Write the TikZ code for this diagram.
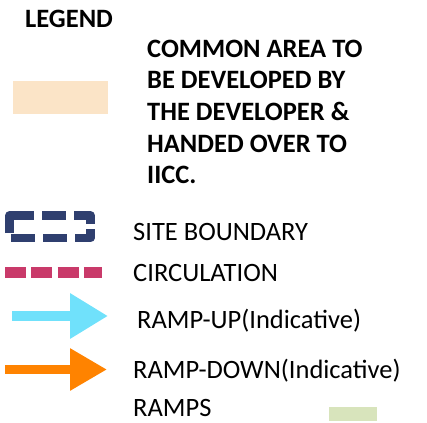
\documentclass[tikz,border=0pt]{standalone}
\usepackage{fontspec}
\setmainfont{Carlito}
\usetikzlibrary{arrows.meta}

\definecolor{areabeige}{HTML}{FBE4C7}
\definecolor{rampgreen}{HTML}{D8E4BC}
\definecolor{sitenavy}{HTML}{2F3F6F}
\definecolor{circpink}{HTML}{C93A6A}
\definecolor{upcyan}{HTML}{70E1FB}
\definecolor{downorange}{HTML}{FF8300}

\begin{document}
\begin{tikzpicture}[
        x=1pt, y=-1pt,
        every node/.style={inner sep=0pt, anchor=base west},
        headtxt/.style={font=\fontsize{26.5}{31.7}\selectfont\bfseries},
        itemtxt/.style={font=\fontsize{26.5}{30}\selectfont},
        boundary/.style={draw=sitenavy, line width=8.5pt, line join=round,
            dash pattern=on 42pt off 8pt on 24pt off 8pt on 25pt off 5pt on 25pt off 8pt on 24pt off 8pt on 24pt off 9pt},
        circ/.style={draw=circpink, line width=11pt, dash pattern=on 21pt off 5.3pt},
        rampup/.style={draw=upcyan, line width=10pt, -{Triangle[length=38pt, width=43pt]}},
        rampdown/.style={draw=downorange, line width=9pt, -{Triangle[length=37pt, width=40pt]}},
    ]
    \useasboundingbox (0,0) rectangle (427,422);

    \node[headtxt](legend) at (25,27.5) {LEGEND};
    \fill[areabeige] (13,81) rectangle (108,114);
    \node[headtxt, align=left, anchor=north west](common) at (147,39.5)
        {COMMON AREA TO\\BE DEVELOPED BY\\THE DEVELOPER \&\\HANDED OVER TO\\IICC.};

    \draw[boundary] (9.5,233) -- (9.5,215.5) -- (90.5,215.5) -- (90.5,238) -- (9.5,238) -- cycle;
    \node[itemtxt](site) at (133,240.5) {SITE BOUNDARY};

    \draw[circ] (5,272.5) -- (102,272.5);
    \node[itemtxt](circulation) at (133,281.5) {CIRCULATION};

    \draw[rampup] (12,316) -- (108,316);
    \node[itemtxt](up) at (137,328.5) {RAMP-UP(Indicative)};

    \draw[rampdown] (5,369.5) -- (107,369.5);
    \node[itemtxt](down) at (133,378.5) {RAMP-DOWN(Indicative)};

    \node[itemtxt](ramps) at (133,416.5) {RAMPS};
    \fill[rampgreen] (329,407) rectangle (377,421);

\end{tikzpicture}
\end{document}
